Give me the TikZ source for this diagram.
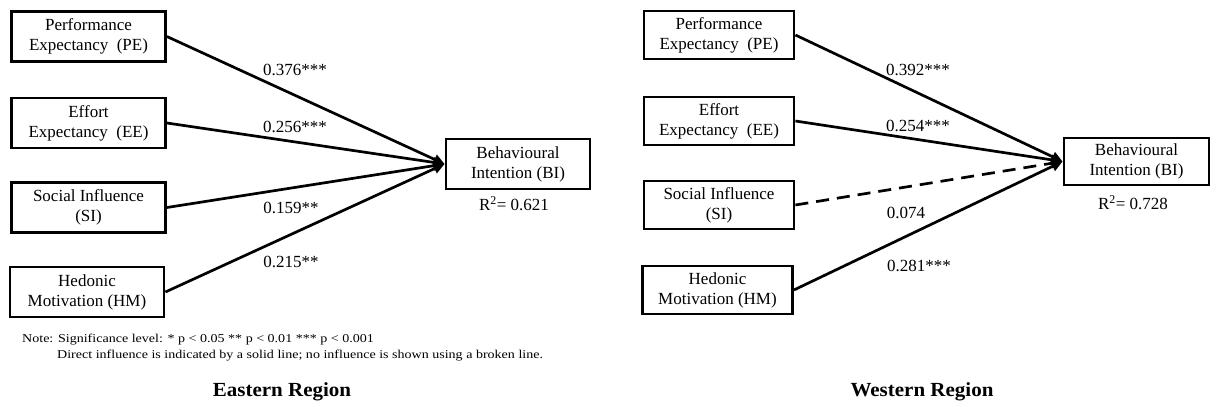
\documentclass[tikz,border=0pt]{standalone}
\usepackage{fontspec}
\setmainfont{Liberation Serif}
\newfontfamily\widenote[FakeStretch=1.17]{Liberation Serif}
\newfontfamily\widetitle[FakeStretch=1.05]{Liberation Serif}
\usetikzlibrary{arrows.meta}

\begin{document}
\begin{tikzpicture}[x=1pt,y=-1pt,
  construct/.style={draw, line width=2.8pt, minimum width=154pt, minimum height=50pt,
    align=center, inner sep=0pt, font=\fontsize{17}{20}\selectfont},
  effect/.style={line width=2.7pt, -{Triangle[length=11pt,width=10pt]}},
  noeffect/.style={effect, dash pattern=on 13pt off 8pt},
  coef/.style={inner sep=0pt, font=\fontsize{17}{20}\selectfont},
  notetext/.style={inner sep=0pt, anchor=base west, font=\widenote\fontsize{12}{14}\selectfont},
  paneltitle/.style={inner sep=0pt, font=\widetitle\fontsize{20}{23}\bfseries\selectfont}]
\useasboundingbox (0,0) rectangle (1216,407);

% ---------- Eastern Region ----------
\node[construct] (peE) at (88.5,36.5) {Performance\\Expectancy~~(PE)};
\node[construct] (eeE) at (88.5,123) {Effort\\Expectancy~~(EE)};
\node[construct] (siE) at (88.5,207.5) {Social Influence\\(SI)};
\node[construct] (hmE) at (87,292) {Hedonic\\Motivation (HM)};
\node[construct, minimum width=144pt] (biE) at (518,164) {Behavioural\\Intention (BI)};
\node[coef] (r2E) at (514,204) {R\textsuperscript{2}= 0.621};

\draw[effect] (peE.east) -- (biE.west);
\draw[effect] (eeE.east) -- (biE.west);
\draw[effect] (siE.east) -- (biE.west);
\draw[effect] (hmE.east) -- (biE.west);

\node[coef] (cPeE) at (295,70) {0.376***};
\node[coef] (cEeE) at (295,127) {0.256***};
\node[coef] (cSiE) at (291,208) {0.159**};
\node[coef] (cHmE) at (291,262) {0.215**};

\node[notetext] (note1) at (22,342) {Note: Significance level: * p < 0.05 ** p < 0.01 *** p < 0.001};
\node[notetext] (note2) at (57,358) {Direct influence is indicated by a solid line; no influence is shown using a broken line.};

\node[paneltitle] (titleE) at (282,392) {Eastern Region};

% ---------- Western Region ----------
\node[construct, minimum width=150pt, minimum height=48pt] (peW) at (719,35) {Performance\\Expectancy~~(PE)};
\node[construct, minimum width=150pt, minimum height=48pt] (eeW) at (719,121) {Effort\\Expectancy~~(EE)};
\node[construct, minimum width=150pt, minimum height=48pt] (siW) at (719,205) {Social Influence\\(SI)};
\node[construct, minimum width=150pt, minimum height=48pt] (hmW) at (717.5,290) {Hedonic\\Motivation (HM)};
\node[construct, minimum width=145pt, minimum height=47pt] (biW) at (1136.5,161.5) {Behavioural\\Intention (BI)};
\node[coef] (r2W) at (1133,203) {R\textsuperscript{2}= 0.728};

\draw[effect] (peW.east) -- (biW.west);
\draw[effect] (eeW.east) -- (biW.west);
\draw[noeffect] (siW.east) -- (biW.west);
\draw[effect] (hmW.east) -- (biW.west);

\node[coef] (cPeW) at (918,70) {0.392***};
\node[coef] (cEeW) at (918,126) {0.254***};
\node[coef] (cSiW) at (906,213) {0.074};
\node[coef] (cHmW) at (919,266) {0.281***};

\node[paneltitle] (titleW) at (922,392) {Western Region};
\end{tikzpicture}
\end{document}
